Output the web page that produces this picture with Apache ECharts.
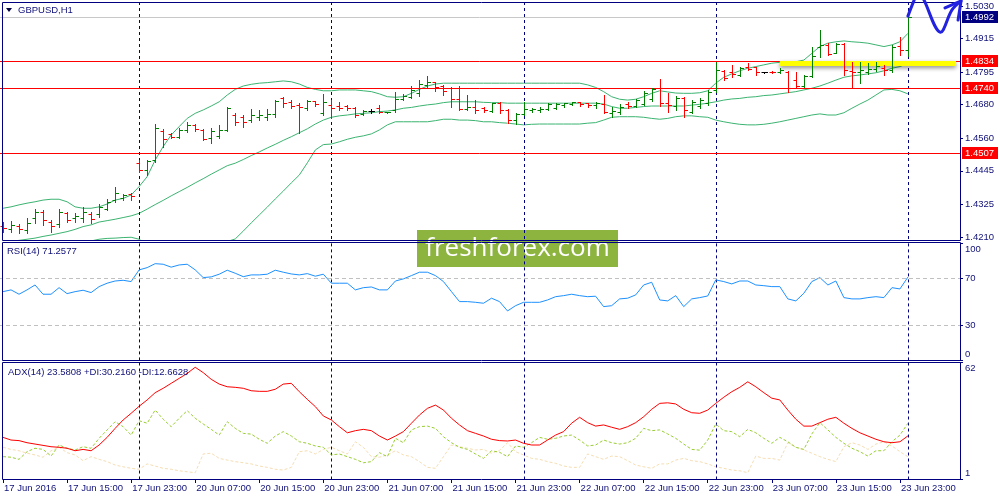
<!DOCTYPE html>
<html>
<head>
<meta charset="utf-8">
<script src="https://cdn.jsdelivr.net/npm/echarts@6/dist/echarts.min.js"></script>
<style>
  html, body { margin: 0; padding: 0; background: #fff; }
  #chart { width: 1000px; height: 500px; }
</style>
</head>
<body>
<div id="chart"></div>
<script>
// hourly bars, GBPUSD H1 (last day only partly drawn, rest is the right margin)
const days = [
  { date: '17 Jun', from: 7, to: 23 },
  { date: '20 Jun', from: 0, to: 23 },
  { date: '21 Jun', from: 0, to: 23 },
  { date: '22 Jun', from: 0, to: 23 },
  { date: '23 Jun', from: 0, to: 23 },
  { date: '24 Jun', from: 0, to: 6 }
];
const firstLabel = '17 Jun 2016';

// open, high, low, close
const bars = [
  [1.4249,1.4264,1.4229,1.4242],[1.4238,1.4268,1.4229,1.4253],[1.4249,1.4256,1.4223,1.4238],[1.4235,1.4276,1.4223,1.4260],
  [1.4277,1.4308,1.4261,1.4299],[1.4299,1.4306,1.4253,1.4270],[1.4263,1.4270,1.4229,1.4249],[1.4256,1.4308,1.4247,1.4299],
  [1.4295,1.4300,1.4264,1.4270],[1.4277,1.4294,1.4264,1.4285],[1.4277,1.4318,1.4264,1.4299],[1.4291,1.4299,1.4259,1.4274],
  [1.4291,1.4327,1.4282,1.4316],[1.4309,1.4344,1.4306,1.4334],[1.4341,1.4386,1.4335,1.4366],[1.4348,1.4363,1.4341,1.4359],
  [1.4363,1.4365,1.4341,1.4356],[1.4473,1.4483,1.4442,1.4448],[1.4448,1.4483,1.4430,1.4480],[1.4483,1.4611,1.4477,1.4597],
  [1.4586,1.4592,1.4531,1.4558],[1.4576,1.4578,1.4560,1.4565],[1.4565,1.4596,1.4560,1.4590],[1.4590,1.4619,1.4584,1.4608],
  [1.4608,1.4611,1.4587,1.4593],[1.4590,1.4592,1.4554,1.4558],[1.4561,1.4596,1.4543,1.4586],[1.4569,1.4608,1.4560,1.4590],
  [1.4590,1.4673,1.4587,1.4668],[1.4643,1.4649,1.4608,1.4618],[1.4636,1.4643,1.4599,1.4618],[1.4625,1.4663,1.4619,1.4643],
  [1.4636,1.4661,1.4625,1.4643],[1.4636,1.4663,1.4625,1.4647],[1.4647,1.4696,1.4637,1.4693],[1.4703,1.4708,1.4670,1.4686],
  [1.4689,1.4696,1.4667,1.4675],[1.4679,1.4685,1.4580,1.4671],[1.4668,1.4696,1.4661,1.4693],[1.4693,1.4694,1.4675,1.4682],
  [1.4650,1.4718,1.4643,1.4689],[1.4679,1.4696,1.4631,1.4668],[1.4675,1.4690,1.4661,1.4668],[1.4675,1.4679,1.4661,1.4668],
  [1.4668,1.4670,1.4637,1.4643],[1.4647,1.4661,1.4643,1.4657],[1.4657,1.4663,1.4649,1.4657],[1.4668,1.4679,1.4649,1.4654],
  [1.4652,1.4655,1.4651,1.4654],[1.4661,1.4726,1.4655,1.4700],[1.4700,1.4717,1.4696,1.4710],[1.4707,1.4746,1.4702,1.4732],
  [1.4721,1.4767,1.4711,1.4753],[1.4750,1.4782,1.4741,1.4760],[1.4760,1.4761,1.4729,1.4742],[1.4746,1.4750,1.4714,1.4728],
  [1.4739,1.4744,1.4673,1.4700],[1.4700,1.4746,1.4661,1.4664],[1.4664,1.4714,1.4661,1.4671],[1.4671,1.4696,1.4651,1.4661],
  [1.4668,1.4672,1.4655,1.4661],[1.4657,1.4687,1.4655,1.4686],[1.4686,1.4690,1.4651,1.4661],[1.4661,1.4663,1.4616,1.4625],
  [1.4625,1.4649,1.4611,1.4647],[1.4647,1.4690,1.4643,1.4664],[1.4661,1.4667,1.4655,1.4664],[1.4661,1.4670,1.4655,1.4664],
  [1.4664,1.4685,1.4661,1.4682],[1.4668,1.4685,1.4663,1.4682],[1.4679,1.4687,1.4673,1.4686],[1.4682,1.4690,1.4679,1.4689],
  [1.4689,1.4690,1.4675,1.4682],[1.4686,1.4687,1.4670,1.4679],[1.4677,1.4690,1.4667,1.4684],[1.4682,1.4714,1.4649,1.4654],
  [1.4650,1.4673,1.4637,1.4657],[1.4654,1.4682,1.4647,1.4671],[1.4682,1.4690,1.4667,1.4675],[1.4675,1.4699,1.4670,1.4696],
  [1.4682,1.4729,1.4679,1.4721],[1.4700,1.4738,1.4694,1.4735],[1.4739,1.4771,1.4675,1.4686],[1.4686,1.4720,1.4655,1.4679],
  [1.4675,1.4711,1.4661,1.4703],[1.4703,1.4706,1.4635,1.4661],[1.4654,1.4696,1.4649,1.4689],[1.4675,1.4702,1.4667,1.4696],
  [1.4686,1.4732,1.4679,1.4725],[1.4732,1.4832,1.4726,1.4803],[1.4799,1.4803,1.4767,1.4774],[1.4796,1.4821,1.4777,1.4789],
  [1.4785,1.4815,1.4782,1.4810],[1.4813,1.4827,1.4803,1.4806],[1.4813,1.4815,1.4785,1.4796],[1.4796,1.4797,1.4793,1.4796],
  [1.4796,1.4799,1.4791,1.4794],[1.4796,1.4809,1.4793,1.4803],[1.4796,1.4799,1.4726,1.4739],[1.4767,1.4797,1.4741,1.4746],
  [1.4746,1.4785,1.4741,1.4782],[1.4782,1.4886,1.4779,1.4853],[1.4884,1.4945,1.4850,1.4892],[1.4892,1.4898,1.4856,1.4860],
  [1.4863,1.4898,1.4862,1.4895],[1.4895,1.4898,1.4785,1.4803],[1.4800,1.4832,1.4738,1.4797],[1.4796,1.4832,1.4758,1.4803],
  [1.4796,1.4827,1.4789,1.4806],[1.4806,1.4832,1.4800,1.4817],[1.4810,1.4821,1.4785,1.4803],[1.4803,1.4892,1.4797,1.4884],
  [1.4888,1.4921,1.4856,1.4874],[1.4874,1.4996,1.4853,1.4992]
];

// Bollinger bands (20)
const bbUpper = [
  1.4312,1.4317,1.4324,1.4330,1.4335,1.4341,1.4344,1.4344,1.4335,1.4317,
  1.4312,1.4312,1.4317,1.4327,1.4341,1.4347,1.4359,1.4389,1.4424,1.4483,
  1.4531,1.4572,1.4602,1.4631,1.4649,1.4661,1.4675,1.4690,1.4714,1.4734,
  1.4746,1.4752,1.4756,1.4758,1.4761,1.4764,1.4761,1.4753,1.4741,1.4734,
  1.4729,1.4729,1.4732,1.4732,1.4732,1.4729,1.4726,1.4718,1.4708,1.4706,
  1.4708,1.4720,1.4734,1.4746,1.4753,1.4756,1.4756,1.4756,1.4756,1.4756,
  1.4756,1.4756,1.4756,1.4756,1.4756,1.4756,1.4756,1.4756,1.4756,1.4756,
  1.4756,1.4756,1.4756,1.4750,1.4741,1.4726,1.4708,1.4699,1.4696,1.4699,
  1.4708,1.4720,1.4729,1.4725,1.4721,1.4720,1.4720,1.4722,1.4729,1.4756,
  1.4777,1.4789,1.4800,1.4809,1.4815,1.4821,1.4827,1.4830,1.4831,1.4832,
  1.4838,1.4862,1.4886,1.4898,1.4903,1.4906,1.4903,1.4901,1.4898,1.4892,
  1.4886,1.4892,1.4903,1.4933
];
const bbMiddle = [
  1.4192,1.4194,1.4198,1.4202,1.4206,1.4212,1.4217,1.4223,1.4229,1.4237,
  1.4247,1.4253,1.4263,1.4268,1.4273,1.4279,1.4285,1.4294,1.4309,1.4325,
  1.4340,1.4356,1.4371,1.4386,1.4402,1.4417,1.4433,1.4448,1.4463,1.4472,
  1.4485,1.4499,1.4512,1.4526,1.4539,1.4553,1.4566,1.4580,1.4594,1.4611,
  1.4625,1.4635,1.4640,1.4643,1.4647,1.4649,1.4651,1.4655,1.4657,1.4661,
  1.4667,1.4670,1.4675,1.4679,1.4682,1.4687,1.4690,1.4690,1.4690,1.4690,
  1.4688,1.4687,1.4687,1.4685,1.4685,1.4685,1.4685,1.4685,1.4685,1.4685,
  1.4685,1.4685,1.4685,1.4685,1.4685,1.4682,1.4673,1.4667,1.4667,1.4670,
  1.4673,1.4675,1.4675,1.4675,1.4675,1.4675,1.4678,1.4681,1.4685,1.4690,
  1.4696,1.4700,1.4702,1.4706,1.4708,1.4712,1.4714,1.4718,1.4722,1.4726,
  1.4732,1.4738,1.4746,1.4756,1.4767,1.4777,1.4782,1.4785,1.4789,1.4793,
  1.4800,1.4809,1.4815,1.4827
];
const bbLower = [
  1.4164,1.4168,1.4171,1.4175,1.4178,1.4182,1.4185,1.4189,1.4189,1.4192,
  1.4192,1.4196,1.4202,1.4205,1.4206,1.4208,1.4209,1.4202,1.4182,1.4157,
  1.4143,1.4136,1.4136,1.4143,1.4153,1.4164,1.4175,1.4185,1.4194,1.4203,
  1.4231,1.4260,1.4288,1.4316,1.4345,1.4373,1.4402,1.4430,1.4473,1.4519,
  1.4538,1.4540,1.4548,1.4557,1.4564,1.4569,1.4576,1.4590,1.4608,1.4619,
  1.4619,1.4619,1.4619,1.4619,1.4623,1.4628,1.4628,1.4625,1.4625,1.4623,
  1.4619,1.4619,1.4616,1.4614,1.4611,1.4608,1.4610,1.4611,1.4611,1.4611,
  1.4611,1.4611,1.4611,1.4614,1.4616,1.4625,1.4635,1.4637,1.4637,1.4637,
  1.4635,1.4631,1.4628,1.4631,1.4637,1.4640,1.4640,1.4637,1.4635,1.4625,
  1.4619,1.4614,1.4610,1.4608,1.4608,1.4610,1.4614,1.4619,1.4625,1.4631,
  1.4637,1.4643,1.4647,1.4643,1.4643,1.4651,1.4667,1.4682,1.4696,1.4714,
  1.4732,1.4734,1.4729,1.4718
];

const rsi = [
  58.8,60.3,56.6,60.3,64.5,56.6,56.6,62.2,57.1,58.8,
  60.0,58.0,63.1,66.0,67.9,68.5,67.4,77.4,79.3,82.7,
  82.2,79.7,81.6,82.2,77.4,70.8,71.4,73.7,77.1,74.5,
  71.6,73.1,73.1,73.7,77.1,75.4,73.9,73.1,74.2,72.0,
  73.7,66.0,66.0,66.0,60.3,62.2,62.8,60.3,60.3,67.9,
  69.7,72.5,75.4,75.4,72.5,67.4,58.8,50.3,50.3,49.7,
  48.9,53.2,50.3,42.3,46.8,49.7,49.7,49.7,51.7,54.5,
  55.4,56.6,55.4,54.5,54.9,46.0,46.8,52.6,53.2,56.0,
  64.5,66.8,51.7,50.9,55.4,46.0,52.6,53.7,55.1,68.8,
  67.4,65.4,67.9,67.9,64.5,63.9,63.1,63.1,52.6,50.9,
  57.4,67.4,70.8,64.5,67.9,53.7,52.6,52.6,53.7,54.5,
  53.7,62.2,61.1,71.2577
];

const adx = [
  22.8,21.4,21.1,20.0,19.3,18.6,17.9,17.6,17.1,15.8,
  16.5,15.8,18.8,22.8,27.5,31.9,35.4,39.1,42.4,46.2,
  48.5,51.1,53.7,56.3,59.5,56.7,53.2,50.7,49.3,49.0,
  48.5,47.2,46.9,46.9,48.0,50.7,51.1,46.7,42.7,38.9,
  34.0,31.9,28.4,25.2,26.3,27.0,26.3,23.5,21.4,23.5,
  25.8,30.2,34.5,38.0,39.7,37.1,32.8,29.3,26.3,24.9,
  23.5,21.8,21.1,20.9,21.4,19.7,18.8,18.8,21.4,24.0,
  25.8,30.2,33.3,30.5,28.7,29.3,28.1,27.0,28.4,30.5,
  33.6,37.5,40.6,40.9,40.3,37.5,35.7,35.4,37.1,40.6,
  43.8,46.7,49.0,51.9,49.3,46.2,43.3,42.4,37.1,32.3,
  28.7,28.7,30.5,32.3,33.3,30.2,27.5,25.2,23.5,21.8,
  20.5,20.0,20.5,23.5808
];
const plusDI = [
  12.7,12.4,11.3,15.3,17.1,16.5,13.0,18.8,17.1,16.2,
  17.9,17.1,22.3,26.7,31.0,28.4,24.0,31.5,30.2,37.1,
  32.3,28.4,32.8,36.8,32.8,29.8,27.0,24.0,31.0,27.5,
  24.9,24.5,21.8,19.7,23.5,25.8,23.5,20.5,19.7,18.3,
  17.6,13.6,14.1,12.7,11.3,9.5,10.1,14.8,12.7,22.3,
  20.0,26.7,28.4,28.7,27.5,23.1,20.0,17.6,16.5,14.1,
  11.8,15.8,15.0,12.7,18.3,17.6,20.0,22.8,21.8,22.3,
  23.5,24.0,21.4,18.3,18.8,21.4,20.0,19.3,20.0,22.3,
  27.5,26.3,26.7,24.6,22.3,19.3,16.5,16.1,21.4,29.8,
  26.3,25.8,23.1,27.0,25.2,22.3,19.7,22.8,20.5,17.6,
  16.5,24.6,30.5,26.7,22.8,19.7,17.1,15.3,13.0,15.8,
  15.8,20.5,24.0,30.2160
];
const minusDI = [
  17.6,16.5,15.8,14.5,13.6,12.4,15.8,17.6,14.8,13.6,
  10.6,12.7,11.3,10.1,8.3,7.4,6.6,6.1,8.9,7.8,
  6.6,6.1,5.3,4.8,4.3,14.1,14.5,11.8,10.9,10.1,
  9.5,8.9,7.8,7.1,6.1,5.7,7.1,15.3,15.8,14.1,
  16.5,17.6,15.8,14.1,20.5,17.6,12.7,12.4,13.6,15.8,
  13.6,12.7,10.1,7.1,6.6,12.7,18.8,17.9,17.1,16.2,
  16.5,14.5,16.0,20.0,15.3,13.6,11.8,11.3,10.1,9.2,
  7.8,7.1,7.1,14.1,12.7,11.3,13.0,12.7,10.6,8.3,
  7.4,6.6,8.9,8.9,10.9,11.8,10.6,10.1,8.9,7.4,
  6.6,5.7,5.3,4.3,13.0,11.8,11.8,10.9,20.0,17.6,
  16.2,14.5,12.7,11.3,10.1,17.9,20.0,18.8,16.5,19.3,
  20.5,18.3,15.3,12.6628
];

// axes and levels
const priceRange = [1.41993, 1.50442];
const priceTicks = [1.5030, 1.4915, 1.4795, 1.4680, 1.4560, 1.4445, 1.4325, 1.4210];
const levels = [1.4834, 1.4740, 1.4507];
const lastPrice = 1.4992;
const band = { from: '23 Jun 08:00', price: 1.4826 };
const rsiTicks = [0, 30, 70, 100];
const rsiLevels = [70, 30];
const adxRange = [1, 62];
const adxTicks = [1, 62];

// hand drawn arrow, in [bar index, price]
const arrowPath = [[113, 1.4994], [113.64, 1.5041], [114.39, 1.5087], [115.01, 1.5051], [117.01, 1.4937], [118.5, 1.5016], [119.63, 1.5048]];
const arrowHead = [[117.63, 1.5023], [119.63, 1.5048], [119.26, 1.4980]];

const categories = [];
days.forEach(d => {
  for (let h = d.from; h <= d.to; h++) {
    categories.push(d.date + ' ' + (h < 10 ? '0' + h : h) + ':00');
  }
});
const dayStartIdx = [];
categories.forEach((c, i) => { if (i > 0 && c.endsWith(' 00:00')) dayStartIdx.push(i); });

const FONT = '"Liberation Sans", Arial, sans-serif';
const NAVY = '#000080';
const TXT = '#10107a';
const RED = '#FF0000';

function renderBar(params, api) {
  const i = api.value(0);
  const o = api.value(1), c = api.value(4);
  const top = api.coord([i, api.value(2)]);
  const bot = api.coord([i, api.value(3)]);
  const po = api.coord([i, o]);
  const pc = api.coord([i, c]);
  const x = Math.round(top[0]) + 0.5;
  const yo = Math.round(po[1]) + 0.5, yc = Math.round(pc[1]) + 0.5;
  const color = c > o ? '#008000' : (c < o ? RED : '#000000');
  const style = { stroke: color, lineWidth: 1 };
  return {
    type: 'group',
    children: [
      { type: 'line', shape: { x1: x, y1: Math.round(top[1]), x2: x, y2: Math.round(bot[1]) + 1 }, style },
      { type: 'line', shape: { x1: x - 3, y1: yo, x2: x, y2: yo }, style },
      { type: 'line', shape: { x1: x, y1: yc, x2: x + 3.5, y2: yc }, style }
    ]
  };
}

// horizontal price level across the panel, with its price box on the axis
function levelSeries(values, lineColor, boxColor) {
  return {
    type: 'custom', xAxisIndex: 0, yAxisIndex: 0, z: 4, silent: true, clip: false,
    encode: { x: 0, y: 1 },
    data: values.map(v => [0, v]),
    renderItem: (params, api) => {
      const cs = params.coordSys;
      const v = api.value(1);
      const y = Math.round(api.coord([0, v])[1]) + 0.5;
      const right = cs.x + cs.width;
      return {
        type: 'group',
        children: [
          { type: 'line', shape: { x1: cs.x, y1: y, x2: right, y2: y }, style: { stroke: lineColor, lineWidth: 1 } },
          { type: 'rect', shape: { x: right + 2, y: y - 6.5, width: 36, height: 12 }, style: { fill: boxColor } },
          {
            type: 'text', x: right + 5, y: y,
            style: { text: v.toFixed(4), fill: '#fff', font: '9.5px ' + FONT, verticalAlign: 'middle' }
          }
        ]
      };
    }
  };
}

// vertical dashed day separators in a panel
function separatorSeries(k) {
  return {
    type: 'custom', xAxisIndex: k, yAxisIndex: k, z: 3, silent: true,
    encode: { x: 0 },
    data: dayStartIdx.map(i => [i]),
    renderItem: (params, api) => {
      const cs = params.coordSys;
      const x = Math.round(api.coord([api.value(0), 0])[0]) + 0.5;
      return {
        type: 'line',
        shape: { x1: x, y1: cs.y, x2: x, y2: cs.y + cs.height + 1 },
        style: { stroke: NAVY, lineWidth: 1, lineDash: [3, 3] }
      };
    }
  };
}

function xAxisFor(grid, show) {
  return {
    type: 'category', gridIndex: grid, data: categories, boundaryGap: true,
    show: true,
    axisLine: { show: false },
    axisTick: {
      show: show, alignWithLabel: true, length: 4,
      interval: (i) => i % 8 === 0 && i < bars.length,
      lineStyle: { color: NAVY }
    },
    axisLabel: {
      show: show, align: 'left', margin: 4, padding: [0, 0, 0, 1],
      interval: (i) => i % 8 === 0 && i < bars.length,
      formatter: (v, i) => (i === 0 ? firstLabel : v),
      color: TXT, fontFamily: FONT, fontSize: 9.5
    },
    splitLine: { show: false }
  };
}

const shiftRich = {
  dn: { padding: [12, 0, 0, 0], color: TXT, fontFamily: FONT, fontSize: 9.5 },
  up: { padding: [0, 0, 12, 0], color: TXT, fontFamily: FONT, fontSize: 9.5 }
};

function yAxisFor(grid, range, ticks, fmt) {
  return {
    type: 'value', gridIndex: grid, position: 'right',
    min: range[0], max: range[1], scale: true,
    axisLine: { show: false },
    splitLine: { show: false },
    axisTick: { show: true, length: 3, customValues: ticks, lineStyle: { color: NAVY } },
    axisLabel: {
      show: true, margin: 5, customValues: ticks, formatter: fmt,
      color: TXT, fontFamily: FONT, fontSize: 9.5, rich: shiftRich
    }
  };
}

const chart = echarts.init(document.getElementById('chart'), null, { renderer: 'canvas' });

const frames = [
  { x: 2.5, y: 2.5, h: 238 },
  { x: 2.5, y: 242.5, h: 118 },
  { x: 2.5, y: 362.5, h: 117 }
].map((f, k) => ({
  id: 'frame' + k, type: 'rect', z: 50, silent: true,
  shape: { x: f.x, y: f.y, width: 958, height: f.h },
  style: { fill: 'none', stroke: NAVY, lineWidth: 1 }
}));

const option = {
  animation: false,
  backgroundColor: '#ffffff',
  grid: [
    { left: -1, right: 40, top: 2, height: 238, outerBoundsMode: 'none' },
    { left: -1, right: 40, top: 243.4, height: 117.1, outerBoundsMode: 'none' },
    { left: -1, right: 40, top: 362.5, height: 116.5, outerBoundsMode: 'none' }
  ],
  xAxis: [xAxisFor(0, false), xAxisFor(1, false), xAxisFor(2, true)],
  yAxis: [
    yAxisFor(0, priceRange, priceTicks, v => v.toFixed(4)),
    yAxisFor(1, [0, 100], rsiTicks, v => (v === 100 ? '{dn|100}' : v === 0 ? '{up|0}' : String(v))),
    yAxisFor(2, adxRange, adxTicks, v => (v === adxRange[1] ? '{dn|' + v + '}' : '{up|' + v + '}'))
  ],
  series: [
    {
      name: 'BB upper', type: 'line', xAxisIndex: 0, yAxisIndex: 0, z: 2,
      data: bbUpper, showSymbol: false, silent: true,
      lineStyle: { color: '#3CB371', width: 1 },
      markLine: {
        silent: true, symbol: ['none', 'none'], animation: false, precision: 4,
        label: { show: false },
        data: [[
          { coord: [band.from, band.price] },
          { coord: [categories[categories.length - 1], band.price] }
        ]],
        lineStyle: {
          color: '#FFFF00', width: 5, type: 'solid',
          shadowBlur: 4, shadowColor: 'rgba(0,0,0,0.45)', shadowOffsetY: 2
        }
      }
    },
    {
      name: 'BB middle', type: 'line', xAxisIndex: 0, yAxisIndex: 0, z: 2,
      data: bbMiddle, showSymbol: false, silent: true,
      lineStyle: { color: '#3CB371', width: 1 }
    },
    {
      name: 'BB lower', type: 'line', xAxisIndex: 0, yAxisIndex: 0, z: 2,
      data: bbLower, showSymbol: false, silent: true,
      lineStyle: { color: '#3CB371', width: 1 }
    },
    levelSeries([lastPrice], '#C8C8C8', NAVY),
    levelSeries(levels, RED, RED),
    separatorSeries(0),
    {
      name: 'GBPUSD', type: 'custom', xAxisIndex: 0, yAxisIndex: 0, z: 5,
      renderItem: renderBar, silent: true,
      encode: { x: 0, y: [1, 2, 3, 4] },
      data: bars.map((b, i) => [i, b[0], b[1], b[2], b[3]])
    },
    {
      name: 'RSI', type: 'line', xAxisIndex: 1, yAxisIndex: 1, z: 4,
      data: rsi, showSymbol: false, silent: true,
      lineStyle: { color: '#1E90FF', width: 1 },
      markLine: {
        silent: true, symbol: ['none', 'none'], animation: false,
        label: { show: false },
        lineStyle: { color: '#C0C0C0', type: [4, 3], width: 1 },
        data: rsiLevels.map(v => ({ yAxis: v }))
      }
    },
    separatorSeries(1),
    {
      name: '-DI', type: 'line', xAxisIndex: 2, yAxisIndex: 2, z: 2,
      data: minusDI, showSymbol: false, silent: true,
      lineStyle: { color: '#F5DEB3', width: 1, type: [3, 2] }
    },
    {
      name: '+DI', type: 'line', xAxisIndex: 2, yAxisIndex: 2, z: 3,
      data: plusDI, showSymbol: false, silent: true,
      lineStyle: { color: '#9ACD32', width: 1, type: [3, 2] }
    },
    {
      name: 'ADX', type: 'line', xAxisIndex: 2, yAxisIndex: 2, z: 4,
      data: adx, showSymbol: false, silent: true,
      lineStyle: { color: RED, width: 1 }
    },
    separatorSeries(2)
  ],
  graphic: {
    elements: [
      ...frames,
      {
        id: 'tri', type: 'polygon', z: 60, silent: true,
        shape: { points: [[6, 8], [12, 8], [9, 12]] },
        style: { fill: '#000040' }
      },
      {
        id: 'sym', type: 'text', z: 60, silent: true, x: 18, y: 10,
        style: { text: 'GBPUSD,H1', fill: TXT, font: '9.5px ' + FONT, verticalAlign: 'middle' }
      },
      {
        id: 'rsiTitle', type: 'text', z: 60, silent: true, x: 7, y: 251,
        style: { text: 'RSI(14) ' + rsi[rsi.length - 1].toFixed(4), fill: TXT, font: '9.5px ' + FONT, verticalAlign: 'middle' }
      },
      {
        id: 'adxTitle', type: 'text', z: 60, silent: true, x: 8, y: 372,
        style: {
          text: 'ADX(14) ' + adx[adx.length - 1].toFixed(4) + ' +DI:' + plusDI[plusDI.length - 1].toFixed(4) +
            ' -DI:' + minusDI[minusDI.length - 1].toFixed(4),
          fill: TXT, font: '9.5px ' + FONT, verticalAlign: 'middle'
        }
      },
      {
        id: 'logo', type: 'group', z: 80, silent: true,
        children: [
          { type: 'rect', shape: { x: 417, y: 230, width: 201, height: 37 }, style: { fill: '#8DB43F' } },
          {
            type: 'text', x: 517.5, y: 248.5,
            style: { text: 'freshforex.com', fill: '#ffffff', font: '26px "Open Sans", sans-serif', align: 'center', verticalAlign: 'middle' }
          }
        ]
      }
    ]
  }
};

chart.setOption(option);

// place the hand drawn arrow through the price scale
const finder = { xAxisIndex: 0, yAxisIndex: 0 };
const p0 = chart.convertToPixel(finder, [0, priceRange[0]]);
const p1 = chart.convertToPixel(finder, [1, priceRange[0]]);
const toPx = pt => [p0[0] + (p1[0] - p0[0]) * pt[0], chart.convertToPixel(finder, [0, pt[1]])[1]];

const arrowStyle = { fill: 'none', stroke: '#2222E0', lineWidth: 3, lineCap: 'round', lineJoin: 'round' };
chart.setOption({
  graphic: {
    elements: [
      { id: 'arrow', type: 'polyline', z: 90, silent: true, shape: { points: arrowPath.map(toPx), smooth: 0.35 }, style: arrowStyle },
      { id: 'arrowHead', type: 'polyline', z: 90, silent: true, shape: { points: arrowHead.map(toPx) }, style: arrowStyle }
    ]
  }
});
</script>
</body>
</html>
